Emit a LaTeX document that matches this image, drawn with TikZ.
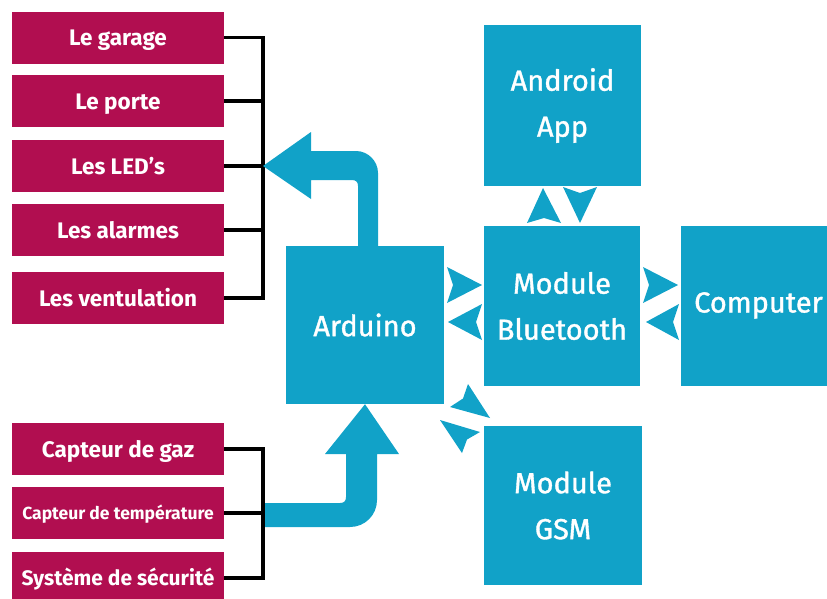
\documentclass[tikz,border=0pt]{standalone}
\usepackage{fontspec}
\setmainfont{Fira Sans}
\newfontfamily\medfont[FakeBold=1.2]{Fira Sans}
\definecolor{mg}{RGB}{177,14,80}
\definecolor{bl}{RGB}{17,162,200}
\begin{document}
\begin{tikzpicture}[x=1pt,y=-1pt,
  mbox/.style={fill=mg, text=white, font=\fontsize{22.5}{24}\selectfont\bfseries,
    minimum width=212pt, minimum height=52pt, inner sep=0pt, text height=16pt, text depth=0pt},
  bbox/.style={fill=bl, text=white, font=\medfont\fontsize{29}{46}\selectfont,
    inner sep=0pt, align=center},
  br/.style={line width=3.5pt, draw=black},
  chev/.style={fill=bl}]
\useasboundingbox (0,0) rectangle (827,598);
\clip (0,0) rectangle (827,598);

% output boxes
\node[mbox] (g1) at (118,37.5) {Le garage};
\node[mbox] (g2) at (118,101) {Le porte};
\node[mbox] (g3) at (118,166) {Les LED’s};
\node[mbox] (g4) at (118,230) {Les alarmes};
\node[mbox] (g5) at (118,298) {Les ventulation};
% input boxes
\node[mbox] (s1) at (118,449) {Capteur de gaz};
\node[mbox, font=\fontsize{17.5}{20}\selectfont\bfseries, text height=12.5pt] (s2) at (118,513) {Capteur de température};
\node[mbox, font=\fontsize{21}{24}\selectfont\bfseries, text height=15pt] (s3) at (118,578) {Système de sécurité};

% blue boxes
\node[bbox, minimum width=158pt, minimum height=158pt] (ard) at (365,325) {Arduino};
\node[bbox, minimum width=156pt, minimum height=160pt] (bt) at (562,306) {Module\\Bluetooth};
\node[bbox, minimum width=157pt, minimum height=161pt] (and) at (562.5,105.5) {Android\\App};
\node[bbox, minimum width=158pt, minimum height=159pt] (gsm) at (563,505.5) {Module\\GSM};
\node[bbox, minimum width=155pt, minimum height=160pt, text height=20pt, text depth=7pt] (comp) at (758.5,306) {Computer};

% brackets
\coordinate (tj) at (263,166);
\coordinate (bj) at (263,513);
\foreach \n in {g1,g2,g3,g4,g5} \draw[br] (\n.east) -| (tj);
\foreach \n in {s1,s2,s3} \draw[br] (\n.east) -| (bj);

% bent arrow: Arduino -> outputs
\fill[bl] (358,246) -- (358,186) .. controls (358,182) and (356,180) .. (352,180)
  -- (311,180) -- (311,199) -- (tj) -- (311,132) -- (311,151) -- (356,151)
  .. controls (368,151) and (378,161) .. (378,173) -- (378,246) -- cycle;

% bent arrow: inputs -> Arduino
\fill[bl] (265,503) -- (340,503) .. controls (344,503) and (346,501) .. (346,497)
  -- (346,454) -- (325,454) -- (ard.south) -- (399,454) -- (377,454) -- (377,500)
  .. controls (377,515) and (365,527) .. (350,527) -- (265,527) -- cycle;

% chevrons Arduino <-> Bluetooth
\fill[chev] (482,285) -- (447,267) -- (453,285) -- (447,303) -- cycle;
\fill[chev] (448,322) -- (482,304) -- (476,322) -- (482,340) -- cycle;
% Bluetooth <-> Computer
\fill[chev] (678,285) -- (643,267) -- (649,285) -- (643,303) -- cycle;
\fill[chev] (646,322) -- (679,304) -- (673,322) -- (679,340) -- cycle;
% Bluetooth <-> Android
\fill[chev] (543,188) -- (527,223) -- (544,218) -- (561,223) -- cycle;
\fill[chev] (580,223) -- (563,187) -- (580,193) -- (597,187) -- cycle;
% Arduino <-> GSM
\fill[chev] (490,418) -- (468,384) -- (463,398.5) -- (450,407) -- cycle;
\fill[chev] (440,420) -- (480,432) -- (467,439.5) -- (462,453) -- cycle;
\end{tikzpicture}
\end{document}
